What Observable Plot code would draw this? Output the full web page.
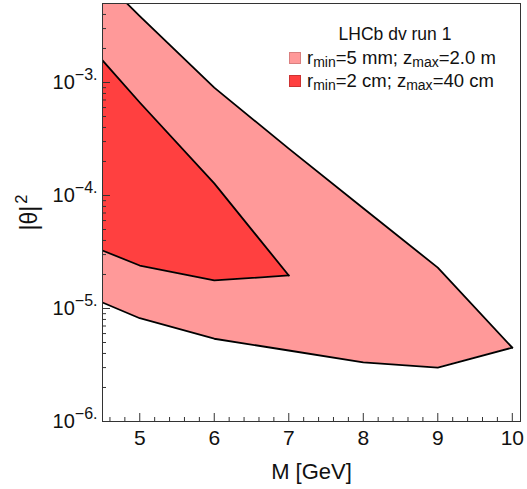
<!DOCTYPE html>
<html><head><meta charset="utf-8">
<script src="https://cdn.jsdelivr.net/npm/d3@7"></script>
<script src="https://cdn.jsdelivr.net/npm/@observablehq/plot@0.6"></script>
<style>
body{margin:0;background:#fff;font-family:"Liberation Sans",Arial,sans-serif;}
#wrap{position:relative;width:527px;height:489px;}
#legend{position:absolute;left:289px;top:23px;font-size:17.5px;color:#111;line-height:23px;}
#legend .ttl{text-align:center;width:212px;}
#legend .row{display:flex;align-items:center;white-space:nowrap;font-size:18.5px;}
#legend .sw{display:inline-block;width:12px;height:12px;margin-right:6px;box-sizing:border-box;}
#legend sub{font-size:14px;vertical-align:-3px;line-height:0;}
</style></head><body><div id="wrap"></div>
<script>
// data
const massOuter = [4.5, 5, 6, 7, 8, 9, 10];
const outerUpper = [8.2e-3, 3.87e-3, 9.0e-4, 2.6e-4, 7.7e-5, 2.3e-5, 4.5e-6];
const outerLower = [1.13e-5, 8.2e-6, 5.4e-6, 4.25e-6, 3.33e-6, 3.0e-6, 4.5e-6];
const massInner = [4.5, 5, 6, 7];
const innerUpper = [1.57e-3, 6.65e-4, 1.28e-4, 1.96e-5];
const innerLower = [3.26e-5, 2.4e-5, 1.77e-5, 1.96e-5];
const xMajor = [5, 6, 7, 8, 9, 10];
const xMinor = [4.6, 4.8, 5.2, 5.4, 5.6, 5.8, 6.2, 6.4, 6.6, 6.8, 7.2, 7.4, 7.6, 7.8, 8.2, 8.4, 8.6, 8.8, 9.2, 9.4, 9.6, 9.8];
const yMajor = [1e-6, 1e-5, 1e-4, 1e-3];
const yMinor = [2e-6,3e-6,4e-6,5e-6,6e-6,7e-6,8e-6,9e-6,2e-5,3e-5,4e-5,5e-5,6e-5,7e-5,8e-5,9e-5,2e-4,3e-4,4e-4,5e-4,6e-4,7e-4,8e-4,9e-4,2e-3,3e-3,4e-3,5e-3];
const legendTitle = "LHCb dv run 1";
const seriesLabels = ["r<sub>min</sub>=5 mm; z<sub>max</sub>=2.0 m", "r<sub>min</sub>=2 cm; z<sub>max</sub>=40 cm"];
const seriesColors = ["#ff9999", "#ff4040"];
const swatchBorders = ["#d97f7f", "#cc3333"];

const outer = massOuter.map((m, i) => ({m, hi: outerUpper[i], lo: outerLower[i]}));
const inner = massInner.map((m, i) => ({m, hi: innerUpper[i], lo: innerLower[i]}));

const font = "'Liberation Sans', Arial, sans-serif";
const chart = Plot.plot({
  width: 527, height: 489,
  marginLeft: 102, marginRight: 7, marginTop: 3, marginBottom: 68,
  style: {fontFamily: font, color: "#111", background: "white"},
  x: {domain: [4.5, 10.11]},
  y: {type: "log", domain: [1e-6, 5e-3]},
  marks: [
    Plot.areaY(outer, {x: "m", y1: "lo", y2: "hi", fill: seriesColors[0], clip: true}),
    Plot.line(outer, {x: "m", y: "hi", stroke: "black", strokeWidth: 1.8, clip: true}),
    Plot.line(outer, {x: "m", y: "lo", stroke: "black", strokeWidth: 1.8, clip: true}),
    Plot.areaY(inner, {x: "m", y1: "lo", y2: "hi", fill: seriesColors[1], clip: true}),
    Plot.line(inner, {x: "m", y: "hi", stroke: "black", strokeWidth: 1.8, clip: true}),
    Plot.line(inner, {x: "m", y: "lo", stroke: "black", strokeWidth: 1.8, clip: true}),
    Plot.frame({stroke: "#333"}),
    Plot.axisX(xMajor, {tickSize: -8, fill: "none", stroke: "#333"}),
    Plot.axisX(xMinor, {tickSize: -4, fill: "none", stroke: "#333"}),
    Plot.axisY(yMajor, {tickSize: -8, fill: "none", stroke: "#333"}),
    Plot.axisY(yMinor, {tickSize: -4, fill: "none", stroke: "#333"}),
    Plot.axisX(xMajor, {tickSize: 0, tickPadding: 9, fontSize: 21, tickFormat: d => String(d),
      label: "M [GeV]", labelAnchor: "center", labelArrow: "none", labelOffset: 57}),
    Plot.axisY(yMajor, {tickSize: 0, tickPadding: 5, fontSize: 20,
      tickFormat: d => "10^" + String(Math.round(Math.log10(d))).replace("-", "\u2212") + ".",
      label: "|\u03b8|^2", labelAnchor: "center", labelArrow: "none", labelOffset: 82})
  ]
});

// superscripts in tick labels and y label
const ns = "http://www.w3.org/2000/svg";
chart.querySelectorAll("text").forEach(t => {
  const s = t.textContent;
  if (s.includes("^")) {
    const [base, sup] = s.split("^");
    const isLabel = base.includes("\u03b8");
    t.textContent = "";
    const a = document.createElementNS(ns, "tspan"); a.textContent = base;
    const b = document.createElementNS(ns, "tspan"); b.textContent = sup;
    if (isLabel) {
      t.setAttribute("font-size", "23");
      b.setAttribute("dy", "-0.6em"); b.setAttribute("dx", "0.12em"); b.setAttribute("font-size", "0.72em");
    } else {
      b.setAttribute("dy", "-0.55em"); b.setAttribute("font-size", "0.8em");
    }
    t.appendChild(a); t.appendChild(b);
  } else if (s === "M [GeV]") {
    t.setAttribute("font-size", "22");
  }
});

const wrap = document.getElementById("wrap");
wrap.appendChild(chart);
const lg = document.createElement("div");
lg.id = "legend";
lg.innerHTML = `<div class="ttl">${legendTitle}</div>` +
  seriesLabels.map((l, i) => `<div class="row"><span class="sw" style="background:${seriesColors[i]};border:1px solid ${swatchBorders[i]}"></span><span>${l}</span></div>`).join("");
wrap.appendChild(lg);
</script></body></html>
